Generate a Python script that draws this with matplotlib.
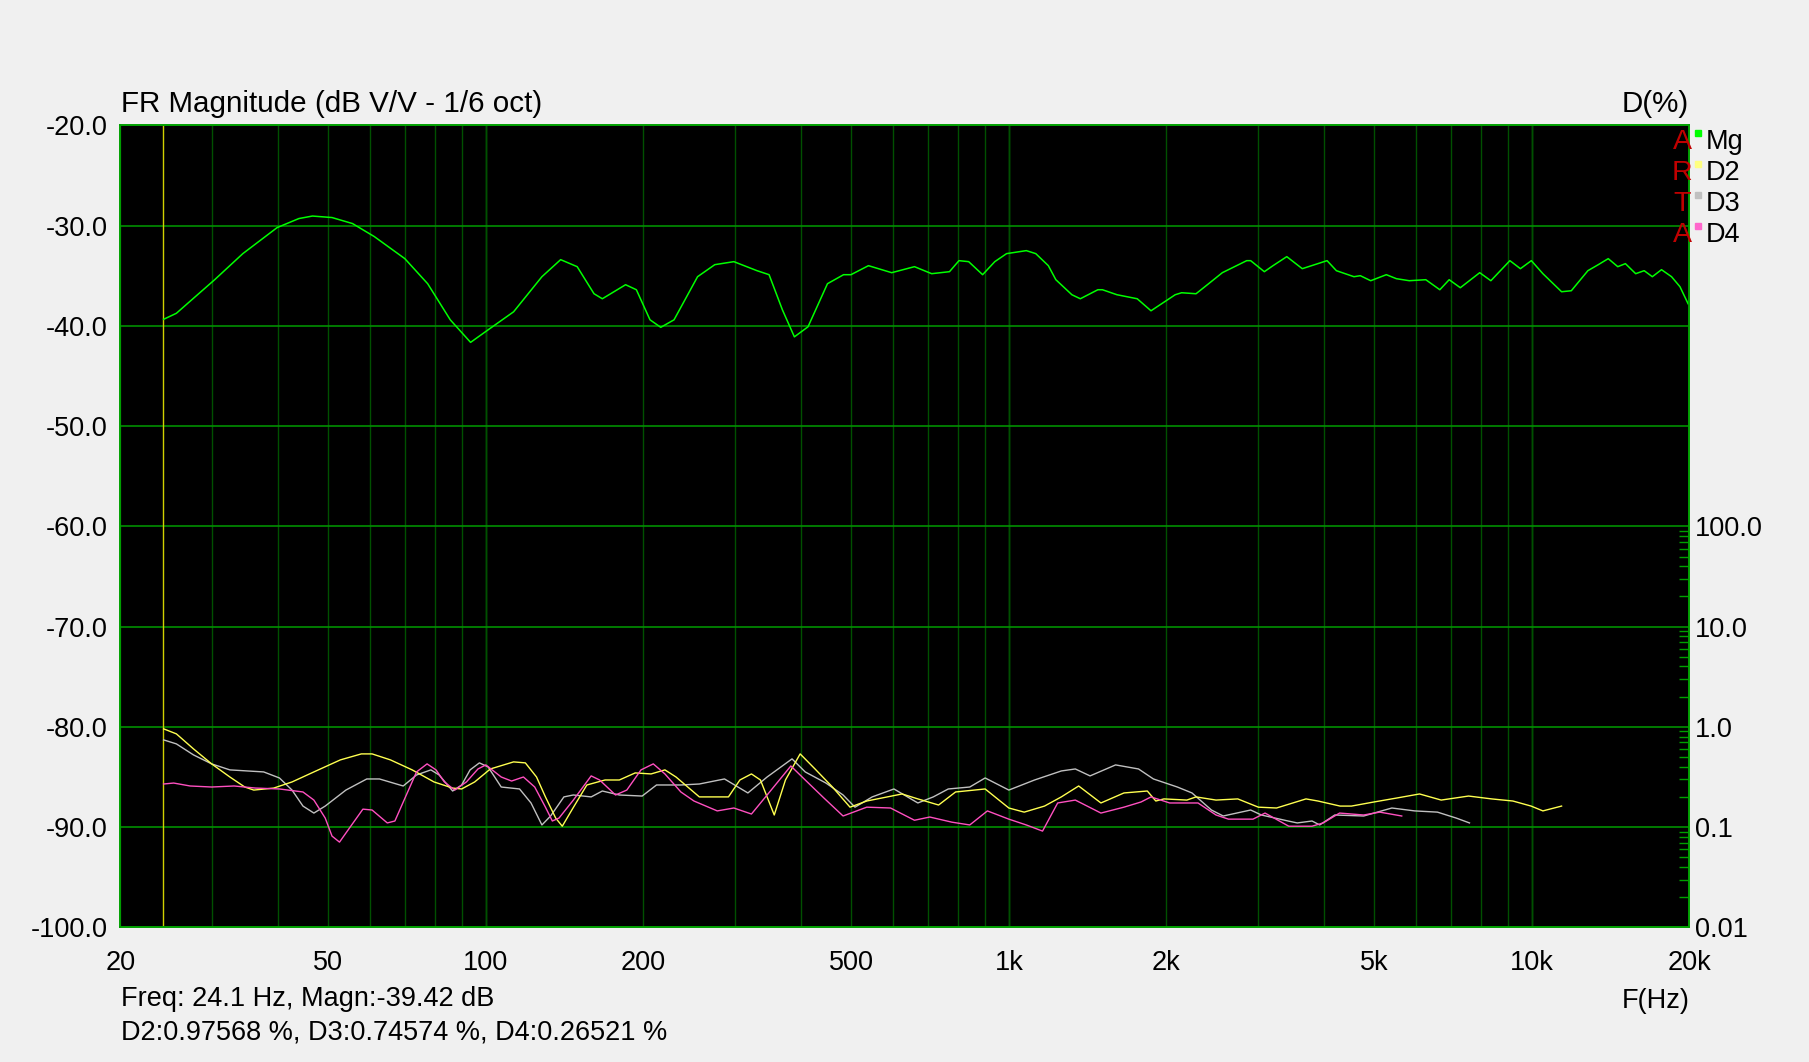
import numpy as np
import matplotlib.pyplot as plt
from matplotlib.ticker import FixedLocator, FixedFormatter, NullFormatter

# magnitude response (Hz, dB)
mg_freq = [24.2, 25.6, 30.3, 34.3, 39.9, 43.9, 46.6, 50.8, 55.6, 61.2, 70.0, 77.4, 85.5, 93.5,
           101, 113, 128, 139, 149.5, 161, 167, 185, 194, 206, 216, 229, 254, 274, 298, 330,
           348, 369, 389, 413, 450, 483, 499, 539, 597, 660, 712, 770, 803, 838, 891, 940,
           990, 1080, 1126, 1190, 1230, 1320, 1370, 1480, 1510, 1610, 1760, 1870, 2080, 2140,
           2280, 2410, 2560, 2850, 2900, 3080, 3200, 3400, 3640, 4060, 4230, 4570, 4700, 4920,
           5270, 5510, 5830, 6270, 6670, 6950, 7300, 7950, 8350, 9080, 9510, 9980, 10500,
           11400, 11900, 12800, 13400, 14000, 14600, 15100, 15800, 16400, 17000, 17700,
           18500, 19200, 19900]
mg_db = [-39.35, -38.75, -35.4, -32.8, -30.2, -29.3, -29.05, -29.2, -29.8, -31.1, -33.3, -35.8,
         -39.4, -41.65, -40.4, -38.6, -35.1, -33.4, -34.1, -36.8, -37.3, -35.9, -36.4, -39.4,
         -40.15, -39.4, -35.1, -33.9, -33.6, -34.5, -34.9, -38.4, -41.1, -40.1, -35.8, -34.9,
         -34.9, -34.0, -34.7, -34.1, -34.8, -34.6, -33.5, -33.6, -34.9, -33.6, -32.8, -32.5,
         -32.8, -34.0, -35.4, -36.9, -37.3, -36.4, -36.4, -36.9, -37.3, -38.5, -36.9, -36.7,
         -36.8, -35.8, -34.7, -33.5, -33.5, -34.6, -34.0, -33.1, -34.3, -33.5, -34.5, -35.1,
         -35.0, -35.5, -34.9, -35.3, -35.5, -35.4, -36.4, -35.4, -36.2, -34.7, -35.5, -33.5,
         -34.3, -33.5, -34.8, -36.6, -36.5, -34.5, -33.9, -33.3, -34.1, -33.8, -34.8, -34.5,
         -35.1, -34.4, -35.1, -36.1, -37.8]

# harmonic distortion (Hz, %)
d2_freq = [24.2, 25.6, 27.6, 29.9, 32.4, 34.6, 36.0, 39.3, 42.6, 46.9, 52.7, 57.8, 60.6, 65.7,
           72.3, 79.6, 86.4, 89.9, 95.2, 102, 113, 119, 125, 130, 136, 140, 146, 156, 169,
           180, 193, 207, 220, 231, 256, 291, 306, 322, 335, 356, 374, 399, 426, 460, 497,
           535, 625, 670, 734, 791, 901, 1000, 1070, 1170, 1260, 1360, 1500, 1660, 1840,
           1910, 1980, 2190, 2280, 2490, 2740, 3000, 3250, 3700, 3900, 4300, 4520, 4990,
           5520, 6100, 6710, 7570, 8380, 9200, 9970, 10500, 11400]
d2_pct = [0.955, 0.851, 0.603, 0.427, 0.316, 0.251, 0.234, 0.245, 0.282, 0.355, 0.468, 0.537,
          0.537, 0.468, 0.372, 0.282, 0.245, 0.240, 0.282, 0.380, 0.447, 0.437, 0.316, 0.200,
          0.123, 0.102, 0.148, 0.263, 0.295, 0.295, 0.347, 0.339, 0.372, 0.316, 0.200, 0.200,
          0.295, 0.339, 0.295, 0.132, 0.295, 0.537, 0.380, 0.251, 0.158, 0.182, 0.214, 0.191,
          0.166, 0.224, 0.240, 0.155, 0.141, 0.162, 0.200, 0.257, 0.174, 0.219, 0.229, 0.182,
          0.191, 0.186, 0.200, 0.186, 0.191, 0.158, 0.155, 0.191, 0.182, 0.162, 0.162, 0.178,
          0.195, 0.214, 0.186, 0.204, 0.191, 0.182, 0.162, 0.145, 0.162]

d3_freq = [24.2, 25.6, 27.6, 29.9, 32.4, 35.0, 37.6, 40.3, 42.6, 44.7, 46.9, 49.3, 54.0, 59.2,
           62.6, 69.5, 73.7, 78.5, 81.4, 86.4, 89.9, 93.3, 97.2, 101, 107, 116, 122, 128,
           133, 141, 147, 159, 167, 180, 199, 212, 236, 256, 286, 317, 345, 385, 408, 447,
           482, 508, 548, 603, 670, 717, 766, 842, 901, 1000, 1120, 1260, 1340, 1430, 1600,
           1770, 1890, 2100, 2240, 2440, 2570, 2900, 3040, 3420, 3560, 3800, 3930, 4200,
           4770, 5400, 5970, 6600, 7170, 7600]
d3_pct = [0.741, 0.676, 0.525, 0.427, 0.372, 0.363, 0.355, 0.309, 0.234, 0.162, 0.138, 0.162,
          0.234, 0.302, 0.302, 0.257, 0.331, 0.372, 0.331, 0.229, 0.263, 0.372, 0.437, 0.398,
          0.251, 0.240, 0.174, 0.105, 0.129, 0.200, 0.209, 0.200, 0.229, 0.209, 0.204, 0.263,
          0.263, 0.269, 0.302, 0.219, 0.316, 0.479, 0.355, 0.275, 0.209, 0.158, 0.200, 0.240,
          0.174, 0.200, 0.240, 0.251, 0.309, 0.234, 0.295, 0.363, 0.380, 0.324, 0.417, 0.380,
          0.302, 0.251, 0.219, 0.148, 0.129, 0.148, 0.132, 0.115, 0.110, 0.115, 0.105, 0.132,
          0.129, 0.155, 0.145, 0.141, 0.123, 0.110]

d4_freq = [24.2, 25.3, 27.2, 29.9, 33.0, 36.3, 40.3, 44.7, 46.9, 49.3, 50.8, 52.5, 54.5, 58.2,
           60.6, 64.8, 67.0, 70.2, 73.7, 77.2, 80.3, 83.3, 87.2, 91.8, 96.6, 100, 107, 112,
           118, 124, 130, 134, 138, 147, 159, 165, 177, 186, 198, 209, 220, 236, 250, 277,
           298, 322, 345, 383, 408, 443, 482, 535, 594, 660, 706, 778, 842, 910, 1000, 1080,
           1160, 1240, 1340, 1500, 1660, 1790, 1870, 2030, 2300, 2490, 2630, 2930, 3090,
           3430, 3800, 3990, 4290, 4770, 5120, 5640]
d4_pct = [0.269, 0.275, 0.257, 0.251, 0.257, 0.245, 0.240, 0.224, 0.186, 0.123, 0.0813, 0.0708,
          0.0933, 0.151, 0.148, 0.110, 0.115, 0.200, 0.355, 0.427, 0.372, 0.282, 0.234, 0.282,
          0.380, 0.417, 0.316, 0.288, 0.316, 0.251, 0.158, 0.115, 0.123, 0.186, 0.324, 0.295,
          0.209, 0.234, 0.372, 0.427, 0.339, 0.224, 0.182, 0.145, 0.155, 0.135, 0.209, 0.407,
          0.295, 0.195, 0.129, 0.158, 0.155, 0.117, 0.126, 0.112, 0.105, 0.145, 0.120, 0.105,
          0.0912, 0.174, 0.186, 0.138, 0.158, 0.178, 0.200, 0.174, 0.174, 0.132, 0.120, 0.120,
          0.138, 0.102, 0.102, 0.110, 0.138, 0.132, 0.141, 0.129]

cursor_freq = 24.1
x_ticks = [20, 50, 100, 200, 500, 1000, 2000, 5000, 10000, 20000]
x_labels = ['20', '50', '100', '200', '500', '1k', '2k', '5k', '10k', '20k']
db_ticks = [-100, -90, -80, -70, -60, -50, -40, -30, -20]
pct_ticks = [0.01, 0.1, 1, 10, 100]
pct_labels = ['0.01', '0.1', '1.0', '10.0', '100.0']

plt.rcParams['font.family'] = ['Liberation Sans', 'DejaVu Sans']
FS = 19.5
FS_TITLE = 21.3

fig = plt.figure(figsize=(18.09, 10.62), dpi=100, facecolor='#f0f0f0')
ax = fig.add_axes([0.0665, 0.1268, 0.8673, 0.7552])
ax.set_facecolor('black')
ax.set_xscale('log')
ax.set_xlim(20, 20000)
ax.set_ylim(-100, -20)

# grid
minor = [k * 10 ** e for e in range(1, 5) for k in range(1, 10) if 20 <= k * 10 ** e <= 20000]
ax.xaxis.set_minor_locator(FixedLocator(minor))
ax.xaxis.set_minor_formatter(NullFormatter())
ax.xaxis.set_major_locator(FixedLocator(x_ticks))
ax.xaxis.set_major_formatter(FixedFormatter(x_labels))
ax.grid(which='minor', axis='x', color='#005000', lw=1)
ax.grid(which='major', axis='x', color='#005000', lw=1)
for d in [100, 1000, 10000]:
    ax.axvline(d, color='#008800', lw=1, zorder=1)
ax.set_yticks(db_ticks)
ax.set_yticklabels(['%.1f' % v for v in db_ticks])
ax.grid(which='major', axis='y', color='#009000', lw=1.2)
ax.tick_params(axis='both', which='both', length=0, labelsize=FS)
ax.tick_params(axis='y', pad=9)
ax.tick_params(axis='x', pad=16)
for s in ax.spines.values():
    s.set_color('#00a000')
    s.set_linewidth(1.2)

ax.axvline(cursor_freq, color='#d0d000', lw=1, zorder=2)
ax.plot(mg_freq, mg_db, color='#00ff00', lw=1.1, zorder=3)

# distortion on the right (%) scale
ax2 = ax.twinx()
ax2.set_yscale('log')
ax2.set_ylim(0.01, 1e6)
ax2.plot(d3_freq, d3_pct, color='#c0c0c0', lw=1.0)
ax2.plot(d2_freq, d2_pct, color='#ffff50', lw=1.0)
ax2.plot(d4_freq, d4_pct, color='#ff50c0', lw=1.0)
ax2.yaxis.set_major_locator(FixedLocator(pct_ticks))
ax2.yaxis.set_major_formatter(FixedFormatter(pct_labels))
pminor = [k * 10.0 ** e for e in range(-2, 2) for k in range(2, 10)]
ax2.yaxis.set_minor_locator(FixedLocator(pminor))
ax2.yaxis.set_minor_formatter(NullFormatter())
ax2.tick_params(axis='y', which='major', length=0, pad=4, labelsize=FS)
ax2.tick_params(axis='y', which='minor', direction='in', length=7.2, width=1, color='#00a000')
for s in ax2.spines.values():
    s.set_color('#00a000')
    s.set_linewidth(1.2)

# titles
fig.text(0.0668, 0.902, 'FR Magnitude (dB V/V - 1/6 oct)', fontsize=FS_TITLE, ha='left', va='center')
fig.text(0.9338, 0.902, 'D(%)', fontsize=FS_TITLE, ha='right', va='center')
fig.text(0.9338, 0.057, 'F(Hz)', fontsize=FS, ha='right', va='center')
fig.text(0.0668, 0.059, 'Freq: 24.1 Hz, Magn:-39.42 dB', fontsize=FS, ha='left', va='center')
fig.text(0.0668, 0.028, 'D2:0.97568 %, D3:0.74574 %, D4:0.26521 %', fontsize=FS, ha='left', va='center')

# legend with ARTA watermark
leg_names = ['Mg', 'D2', 'D3', 'D4']
leg_colors = ['#00ff00', '#ffff80', '#c0c0c0', '#ff66cc']
for i, (name, col, ch) in enumerate(zip(leg_names, leg_colors, 'ARTA')):
    yc = 1 - (142 + 31 * i) / 1062
    fig.text(1682 / 1809, yc, ch, fontsize=FS + 1, color='#c00000', ha='center', va='center')
    fig.patches.append(plt.Rectangle((1695 / 1809, yc + 6 / 1062), 6 / 1809, 6 / 1062,
                                     transform=fig.transFigure, color=col, figure=fig))
    fig.text(1706 / 1809, yc, name, fontsize=FS, ha='left', va='center')

fig.savefig('out.png', dpi=100, facecolor=fig.get_facecolor())
